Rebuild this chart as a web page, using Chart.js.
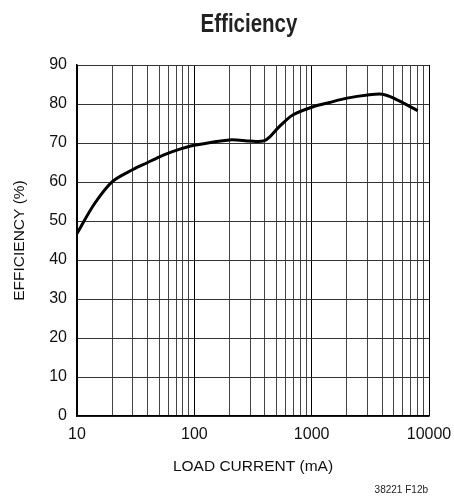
<!DOCTYPE html>
<html>
<head>
<meta charset="utf-8">
<script src="https://cdn.jsdelivr.net/npm/chart.js@4"></script>
<style>
  body { margin: 0; background: #fff; }
  canvas { display: block; }
</style>
</head>
<body>
<canvas id="myChart" width="454" height="500"></canvas>
<script>
// Load current (mA) and efficiency (%)
const loadCurrent = [10, 14, 20, 30, 40, 50, 70, 100, 200, 300, 385, 440, 530, 690, 1030, 1420, 2000, 3000, 4000, 5000, 8000];
const efficiency = [46.8, 54.3, 60.1, 63.2, 65.0, 66.4, 68.1, 69.4, 70.8, 70.5, 70.5, 71.6, 74.2, 77.2, 79.3, 80.4, 81.5, 82.3, 82.5, 81.5, 78.3];
// Log grid lines: 1..9 per decade
const xTicks = [10, 20, 30, 40, 50, 60, 70, 80, 90,
  100, 200, 300, 400, 500, 600, 700, 800, 900,
  1000, 2000, 3000, 4000, 5000, 6000, 7000, 8000, 9000, 10000];
const xLabels = [10, 100, 1000, 10000];

const FONT = "'Liberation Sans', Arial, sans-serif";

function zipxy(xs, ys) {
  const obj = [];
  for (let i = 0; i < xs.length; i++) obj.push({x: xs[i], y: ys[i]});
  return obj;
}

// Title (squeezed to look condensed) and figure tag
const extraText = {
  id: 'extraText',
  afterDraw(chart) {
    const {ctx} = chart;
    ctx.save();
    ctx.fillStyle = '#222';
    ctx.font = 'bold 25px ' + FONT;
    ctx.textAlign = 'center';
    ctx.textBaseline = 'alphabetic';
    ctx.translate(249, 32);
    ctx.scale(0.82, 1);
    ctx.fillText('Efficiency', 0, 0);
    ctx.restore();
    ctx.save();
    ctx.fillStyle = '#222';
    ctx.font = '10px ' + FONT;
    ctx.textAlign = 'right';
    ctx.textBaseline = 'middle';
    ctx.fillText('38221 F12b', 428, 490);
    ctx.restore();
  }
};

const config = {
  type: 'line',
  data: {
    datasets: [{
      data: zipxy(loadCurrent, efficiency),
      borderColor: '#000',
      borderWidth: 3,
      pointRadius: 0,
      fill: false,
      tension: 0.3
    }]
  },
  options: {
    responsive: false,
    animation: false,
    layout: { padding: { top: 65, right: 25, bottom: 0, left: 0 } },
    plugins: { legend: { display: false }, tooltip: { enabled: false } },
    scales: {
      x: {
        type: 'logarithmic',
        min: 10,
        max: 10000,
        afterBuildTicks: (scale) => { scale.ticks = xTicks.map(v => ({value: v})); },
        afterFit: (scale) => {
          scale.height = 84;
          scale.paddingLeft = 0;
          scale.paddingRight = 0;
        },
        grid: {
          drawTicks: false,
          color: (c) => xLabels.includes(c.tick && c.tick.value) ? '#000' : '#444',
          lineWidth: 1
        },
        border: { color: '#000', width: 1.5 },
        ticks: {
          autoSkip: false,
          maxRotation: 0,
          padding: 9,
          color: '#111',
          font: { family: FONT, size: 16 },
          callback: (v) => xLabels.includes(v) ? String(v) : ''
        },
        title: {
          display: true,
          text: 'LOAD CURRENT (mA)',
          color: '#111',
          font: { family: FONT, size: 15.5 },
          padding: { top: 0, bottom: 24 }
        }
      },
      y: {
        min: 0,
        max: 90,
        afterFit: (scale) => {
          scale.width = 77;
          scale.paddingTop = 0;
          scale.paddingBottom = 0;
        },
        grid: { drawTicks: false, color: '#333', lineWidth: 1 },
        border: { color: '#000', width: 1.5 },
        ticks: {
          stepSize: 10,
          padding: 10,
          color: '#111',
          font: { family: FONT, size: 16 }
        },
        title: {
          display: true,
          text: 'EFFICIENCY (%)',
          color: '#111',
          font: { family: FONT, size: 15.5 },
          padding: { top: 10, bottom: 0 }
        }
      }
    }
  },
  plugins: [extraText]
};

new Chart(document.getElementById('myChart'), config);
</script>
</body>
</html>
